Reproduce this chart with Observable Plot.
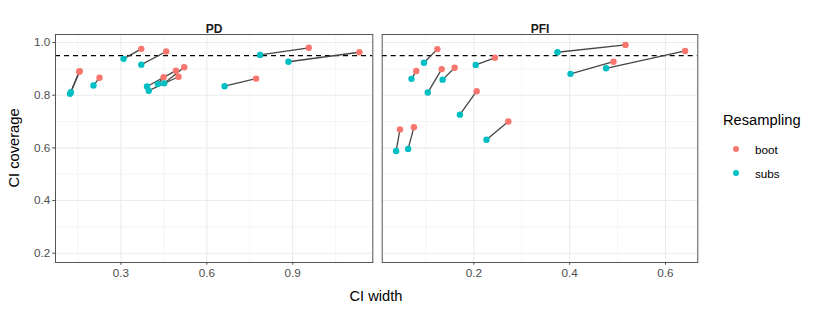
<!DOCTYPE html>
<html>
<head>
<meta charset="utf-8">
<script src="https://cdn.jsdelivr.net/npm/d3@7"></script>
<script src="https://cdn.jsdelivr.net/npm/@observablehq/plot@0.6"></script>
<style>
  html, body { margin: 0; padding: 0; background: #fff; }
  #wrap { position: relative; width: 830px; height: 312px; font-family: "Liberation Sans", Arial, sans-serif; }
  #wrap svg { position: absolute; top: 0; }
  .lbl { position: absolute; white-space: nowrap; color: #000; }
</style>
</head>
<body>
<div id="wrap"></div>
<script>
// ---- data ----
const panels = ["PD", "PFI"];
const groups = ["boot", "subs"];
const groupColors = ["#F8766D", "#00BFC4"];

const pdSubsWidth = [0.122, 0.125, 0.204, 0.309, 0.371, 0.391, 0.397, 0.429, 0.451, 0.662, 0.786, 0.885];
const pdSubsCov   = [0.805, 0.811, 0.837, 0.938, 0.916, 0.833, 0.817, 0.842, 0.845, 0.834, 0.953, 0.927];
const pdBootWidth = [0.154, 0.156, 0.225, 0.371, 0.458, 0.492, 0.501, 0.449, 0.521, 0.772, 0.956, 1.133];
const pdBootCov   = [0.889, 0.891, 0.866, 0.976, 0.966, 0.893, 0.870, 0.868, 0.906, 0.863, 0.980, 0.963];

const pfiSubsWidth = [0.038, 0.063, 0.070, 0.096, 0.104, 0.135, 0.171, 0.204, 0.2265, 0.3746, 0.4018, 0.476];
const pfiSubsCov   = [0.588, 0.596, 0.862, 0.923, 0.810, 0.859, 0.726, 0.915, 0.631, 0.963, 0.881, 0.902];
const pfiBootWidth = [0.046, 0.075, 0.080, 0.124, 0.133, 0.160, 0.206, 0.244, 0.272, 0.5165, 0.4915, 0.641];
const pfiBootCov   = [0.670, 0.678, 0.892, 0.975, 0.899, 0.904, 0.815, 0.942, 0.700, 0.991, 0.927, 0.968];

const yTicks = [0.2, 0.4, 0.6, 0.8, 1.0];
const yMinor = [0.3, 0.5, 0.7, 0.9];
const pdXTicks = [0.3, 0.6, 0.9];
const pdXMinor = [0.15, 0.45, 0.75, 1.05];
const pfiXTicks = [0.2, 0.4, 0.6];
const pfiXMinor = [0.1, 0.3, 0.5];
const target = 0.95;

// ---- build ----
const font = "'Liberation Sans', Arial, sans-serif";
const yDomain = [0.1647, 1.0304];

function pairsOf(sw, sc, bw, bc) {
  return sw.map((_, i) => ({sw: sw[i], sc: sc[i], bw: bw[i], bc: bc[i]}));
}
function pointsOf(sw, sc, bw, bc) {
  const pts = [];
  sw.forEach((_, i) => {
    pts.push({w: sw[i], c: sc[i], g: "subs"});
    pts.push({w: bw[i], c: bc[i], g: "boot"});
  });
  return pts;
}

function panel({name, xDomain, xTicks, xMinor, sw, sc, bw, bc, width, mL, mR, showY}) {
  const pairs = pairsOf(sw, sc, bw, bc);
  const pts = pointsOf(sw, sc, bw, bc);
  const marks = [
    Plot.gridY(yMinor, {stroke: "#ebebeb", strokeOpacity: 1, strokeWidth: 0.55}),
    Plot.gridX(xMinor, {stroke: "#ebebeb", strokeOpacity: 1, strokeWidth: 0.55}),
    Plot.gridY(yTicks, {stroke: "#ebebeb", strokeOpacity: 1, strokeWidth: 1.1}),
    Plot.gridX(xTicks, {stroke: "#ebebeb", strokeOpacity: 1, strokeWidth: 1.1}),
    Plot.ruleY([target], {stroke: "#000", strokeWidth: 1.2, strokeDasharray: "5,4"}),
    Plot.link(pairs, {x1: "sw", y1: "sc", x2: "bw", y2: "bc", stroke: "#454545", strokeWidth: 1.3}),
    Plot.dot(pts, {x: "w", y: "c", fill: "g", r: 3.2}),
    Plot.frame({stroke: "#555", strokeWidth: 1}),
    Plot.axisX(xTicks, {tickFormat: d3.format(".1f"), tickSize: 2.75, tickPadding: 3, label: null, color: "#4d4d4d", fontSize: 11.7}),
    Plot.text([name], {frameAnchor: "top", dy: -10, text: d => d, fontWeight: "bold", fontSize: 12, fill: "#1a1a1a"})
  ];
  if (showY) {
    marks.push(Plot.axisY(yTicks, {tickFormat: d3.format(".1f"), tickSize: 2.75, tickPadding: 2.5, label: null, color: "#4d4d4d", fontSize: 11.7}));
  }
  return Plot.plot({
    width, height: 312,
    marginLeft: mL, marginRight: mR, marginTop: 34, marginBottom: 50,
    style: {fontFamily: font, fontSize: "11.7px", background: "transparent", overflow: "visible"},
    x: {domain: xDomain, axis: null},
    y: {domain: yDomain, axis: null},
    color: {domain: groups, range: groupColors},
    marks
  });
}

const wrap = document.getElementById("wrap");
const p1 = panel({name: panels[0], xDomain: [0.0713, 1.1797], xTicks: pdXTicks, xMinor: pdXMinor,
  sw: pdSubsWidth, sc: pdSubsCov, bw: pdBootWidth, bc: pdBootCov, width: 373, mL: 55, mR: 0.7, showY: true});
p1.style.left = "0px";
const p2 = panel({name: panels[1], xDomain: [0.0089, 0.6674], xTicks: pfiXTicks, xMinor: pfiXMinor,
  sw: pfiSubsWidth, sc: pfiSubsCov, bw: pfiBootWidth, bc: pfiBootCov, width: 457, mL: 8.7, mR: 132.7, showY: false});
p2.style.left = "373px";
wrap.appendChild(p1);
wrap.appendChild(p2);

// axis titles
const xt = document.createElement("div");
xt.className = "lbl"; xt.textContent = "CI width";
xt.style.cssText += "font-size:14.7px; left:376px; top:296px; transform:translate(-50%,-50%);";
wrap.appendChild(xt);
const yt = document.createElement("div");
yt.className = "lbl"; yt.textContent = "CI coverage";
yt.style.cssText += "font-size:14.7px; left:14px; top:148px; transform:translate(-50%,-50%) rotate(-90deg);";
wrap.appendChild(yt);

// legend
const lt = document.createElement("div");
lt.className = "lbl"; lt.textContent = "Resampling";
lt.style.cssText += "font-size:14.7px; left:723px; top:120px; transform:translateY(-50%);";
wrap.appendChild(lt);
[["boot", 149], ["subs", 173]].forEach(([g, y]) => {
  const dot = document.createElement("div");
  dot.style.cssText = `position:absolute; left:${736 - 3.2}px; top:${y - 3.2}px; width:6.4px; height:6.4px; border-radius:50%; background:${groupColors[groups.indexOf(g)]};`;
  wrap.appendChild(dot);
  const t = document.createElement("div");
  t.className = "lbl"; t.textContent = g;
  t.style.cssText += `font-size:11.7px; left:755px; top:${y}px; transform:translateY(-50%);`;
  wrap.appendChild(t);
});
</script>
</body>
</html>
